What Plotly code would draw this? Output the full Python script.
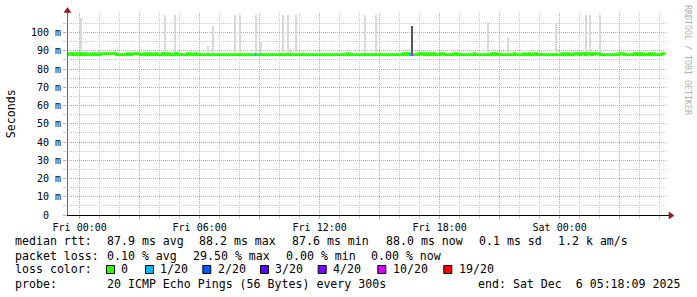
import plotly.graph_objects as go
from datetime import datetime, timedelta

# ---------------- data ----------------
x_start = "2025-12-04 23:22:00"
x_end = "2025-12-06 05:22:00"
y_max = 110.75

median_first = "2025-12-04 23:22"
median_last = "2025-12-06 05:13"
median_base = 87.9
median_high = 88.4
hi_start = ["2025-12-04 23:25", "2025-12-04 23:43", "2025-12-04 23:58", "2025-12-05 00:16",
            "2025-12-05 00:37", "2025-12-05 01:01", "2025-12-05 02:22", "2025-12-05 02:37",
            "2025-12-05 03:13", "2025-12-05 03:25", "2025-12-05 03:46", "2025-12-05 04:07",
            "2025-12-05 04:22", "2025-12-05 04:46", "2025-12-05 05:22", "2025-12-05 05:46",
            "2025-12-05 13:22", "2025-12-05 16:10", "2025-12-05 16:22", "2025-12-05 16:58",
            "2025-12-05 17:22", "2025-12-05 17:40", "2025-12-05 18:01", "2025-12-05 18:43",
            "2025-12-05 19:43", "2025-12-05 20:37", "2025-12-05 20:46", "2025-12-05 21:43",
            "2025-12-05 22:13", "2025-12-05 22:28", "2025-12-05 22:43", "2025-12-06 00:07",
            "2025-12-06 00:22", "2025-12-06 00:43", "2025-12-06 01:04", "2025-12-06 01:22",
            "2025-12-06 01:40", "2025-12-06 02:58", "2025-12-06 03:43", "2025-12-06 03:58",
            "2025-12-06 04:07", "2025-12-06 04:28", "2025-12-06 04:37", "2025-12-06 05:07"]
hi_end = ["2025-12-04 23:37", "2025-12-04 23:52", "2025-12-05 00:07", "2025-12-05 00:22",
          "2025-12-05 00:46", "2025-12-05 01:52", "2025-12-05 02:28", "2025-12-05 03:01",
          "2025-12-05 03:19", "2025-12-05 03:34", "2025-12-05 03:52", "2025-12-05 04:16",
          "2025-12-05 04:31", "2025-12-05 04:55", "2025-12-05 05:31", "2025-12-05 05:52",
          "2025-12-05 13:28", "2025-12-05 16:16", "2025-12-05 16:31", "2025-12-05 17:13",
          "2025-12-05 17:31", "2025-12-05 17:46", "2025-12-05 18:13", "2025-12-05 18:52",
          "2025-12-05 19:46", "2025-12-05 20:43", "2025-12-05 20:52", "2025-12-05 21:46",
          "2025-12-05 22:16", "2025-12-05 22:31", "2025-12-05 22:52", "2025-12-06 00:13",
          "2025-12-06 00:28", "2025-12-06 00:58", "2025-12-06 01:16", "2025-12-06 01:34",
          "2025-12-06 02:01", "2025-12-06 03:13", "2025-12-06 03:52", "2025-12-06 04:04",
          "2025-12-06 04:13", "2025-12-06 04:34", "2025-12-06 04:43", "2025-12-06 05:13"]

loss_times = ["2025-12-05 08:45", "2025-12-05 16:30", "2025-12-05 16:35"]
loss_level = [1, 1, 10]
step_minutes = 5

smoke_times = ["2025-12-05 00:05", "2025-12-05 00:55", "2025-12-05 04:15", "2025-12-05 04:45",
               "2025-12-05 06:25", "2025-12-05 06:40", "2025-12-05 07:45", "2025-12-05 08:00",
               "2025-12-05 08:50", "2025-12-05 09:05", "2025-12-05 10:00", "2025-12-05 10:10",
               "2025-12-05 10:20", "2025-12-05 10:25", "2025-12-05 10:30", "2025-12-05 10:40",
               "2025-12-05 10:50", "2025-12-05 11:10", "2025-12-05 11:20", "2025-12-05 14:15",
               "2025-12-05 14:20", "2025-12-05 14:50", "2025-12-05 15:00", "2025-12-05 15:50",
               "2025-12-05 20:25", "2025-12-05 21:25", "2025-12-05 23:50", "2025-12-06 01:20",
               "2025-12-06 01:30", "2025-12-06 02:00"]
smoke_top = [108.2, 90.5, 109.6, 109.6,
             92.7, 103.7, 109.6, 109.6,
             109.6, 95.0, 89.3, 109.6,
             89.5, 109.6, 91.0, 89.2,
             109.6, 89.3, 89.0, 109.6,
             89.5, 109.6, 89.5, 89.0,
             106.0, 97.0, 105.0, 109.6,
             109.6, 109.6]
dark_times = ["2025-12-05 16:37"]
dark_top = [103.5]

loss_labels = ["0", "1/20", "2/20", "3/20", "4/20", "10/20", "19/20"]
loss_keys = [0, 1, 2, 3, 4, 10, 19]
loss_colors = ["#26ff00", "#00b8ff", "#0059ff", "#5e00ff", "#7e00ff", "#dd00ff", "#ff0000"]

y_tickvals = [0, 10, 20, 30, 40, 50, 60, 70, 80, 90, 100]
y_ticktext = ["0\u00a0\u00a0", "10 m", "20 m", "30 m", "40 m", "50 m", "60 m",
              "70 m", "80 m", "90 m", "100 m"]
y_minorvals = [5, 15, 25, 35, 45, 55, 65, 75, 85, 95, 105]
x_tickvals = ["2025-12-05 00:00", "2025-12-05 03:00", "2025-12-05 06:00", "2025-12-05 09:00",
              "2025-12-05 12:00", "2025-12-05 15:00", "2025-12-05 18:00", "2025-12-05 21:00",
              "2025-12-06 00:00", "2025-12-06 03:00"]
x_ticktext = ["Fri 00:00", "", "Fri 06:00", "", "Fri 12:00", "", "Fri 18:00", "",
              "Sat 00:00", ""]

legend_rows = [
    ["median rtt:", "87.9 ms avg", "88.2 ms max", "87.6 ms min", "88.0 ms now", "0.1 ms sd", "1.2 k am/s"],
    ["packet loss:", "0.10 % avg", "29.50 % max", "0.00 % min", "0.00 % now"],
    ["loss color:"],
    ["probe:", "20 ICMP Echo Pings (56 Bytes) every 300s", "end: Sat Dec  6 05:18:09 2025"],
]

# ---------------- layout geometry (pixels) ----------------
W, H = 697, 297
PL, PR, PT, PB = 67, 667, 13, 215
row_x = [
    [16, 107.3, 200, 292.3, 386.7, 479.3, 558.3],
    [16, 107.3, 193.3, 286.7, 372.3],
    [16],
    [16, 107.3, 478.3],
]
row_y = [241.3, 255.5, 269.4, 283.8]
swatch_x = [106, 145, 202.3, 260, 317.7, 377.3, 443.3]

MONO = "DejaVu Sans Mono"
MAJ = "#e49a9a"
MIN = "#c8c8c8"


def px(x):
    return (x - PL) / (PR - PL)


def py(y):
    return (PB - y) / (PB - PT)


fig = go.Figure()

# smoke
fig.add_trace(go.Bar(x=smoke_times, y=[t - median_base for t in smoke_top], base=median_base,
                     width=6 * 60000, marker_color="#d9d9d9", marker_line_width=0,
                     hoverinfo="skip"))
fig.add_trace(go.Bar(x=dark_times, y=[t - median_base for t in dark_top], base=median_base,
                     width=6 * 60000, marker_color="#555555", marker_line_width=0,
                     hoverinfo="skip"))

# median line
mx = [median_first]
my = [median_base]
for s, e in zip(hi_start, hi_end):
    mx += [s, e]
    my += [median_high, median_base]
mx.append(median_last)
my.append(median_base)
fig.add_trace(go.Scatter(x=mx, y=my, mode="lines", line=dict(color=loss_colors[0], width=2.8, shape="hv"),
                         hoverinfo="skip"))

# loss coloured segments
for t, lv in zip(loss_times, loss_level):
    t0 = datetime.strptime(t, "%Y-%m-%d %H:%M")
    t1 = t0 + timedelta(minutes=step_minutes)
    col = loss_colors[loss_keys.index(lv)]
    fig.add_trace(go.Scatter(x=[t0, t1], y=[median_base, median_base], mode="lines",
                             line=dict(color=col, width=2.8), hoverinfo="skip"))

annotations = []
for items, xs, yy in zip(legend_rows, row_x, row_y):
    for txt, xx in zip(items, xs):
        annotations.append(dict(text=txt, x=px(xx - 0.8), y=py(yy), xref="paper", yref="paper",
                                xanchor="left", yanchor="middle", showarrow=False,
                                borderpad=0, borderwidth=0,
                                font=dict(family=MONO, size=11.6, color="#000")))
shapes = []
for lab, col, sx in zip(loss_labels, loss_colors, swatch_x):
    shapes.append(dict(type="rect", xref="paper", yref="paper",
                       x0=px(sx + 0.5), x1=px(sx + 8.5), y0=py(273.5), y1=py(265.5),
                       fillcolor=col, line=dict(color="#000", width=1)))
    annotations.append(dict(text=lab, x=px(sx + 16 - 0.8), y=py(row_y[2]), xref="paper", yref="paper",
                            xanchor="left", yanchor="middle", showarrow=False,
                            borderpad=0, borderwidth=0,
                            font=dict(family=MONO, size=11.6, color="#000")))

annotations.append(dict(text="Seconds", x=px(10.7), y=py(113.5), xref="paper", yref="paper",
                        textangle=-90, showarrow=False, xanchor="center", yanchor="middle",
                        borderpad=0, borderwidth=0,
                        font=dict(family=MONO, size=11.6, color="#000")))
annotations.append(dict(text="RRDTOOL / TOBI OETIKER", x=px(688), y=py(60), xref="paper", yref="paper",
                        textangle=90, showarrow=False, xanchor="center", yanchor="middle",
                        borderpad=0, borderwidth=0,
                        font=dict(family=MONO, size=8.3, color="#b0b0b0")))

# axis lines and arrows
shapes.append(dict(type="line", xref="paper", yref="paper", x0=px(67.5), x1=px(67.5),
                   y0=py(215), y1=py(12), line=dict(color="#666666", width=1)))
shapes.append(dict(type="line", xref="paper", yref="paper", x0=px(67), x1=px(670),
                   y0=py(215.5), y1=py(215.5), line=dict(color="#000000", width=1)))
ARROW = "#8b1a1a"
shapes.append(dict(type="path", xref="paper", yref="paper",
                   path="M {} {} L {} {} L {} {} Z".format(px(67.5), py(7.5), px(64), py(12.5), px(71), py(12.5)),
                   fillcolor=ARROW, line=dict(color=ARROW, width=0.5)))
shapes.append(dict(type="path", xref="paper", yref="paper",
                   path="M {} {} L {} {} L {} {} Z".format(px(674), py(215.5), px(669), py(212), px(669), py(219)),
                   fillcolor=ARROW, line=dict(color=ARROW, width=0.5)))

fig.update_layout(
    width=W, height=H, autosize=False,
    margin=dict(l=PL, r=W - PR, t=PT, b=H - PB, pad=0),
    paper_bgcolor="white", plot_bgcolor="white",
    showlegend=False, barmode="overlay", bargap=0,
    annotations=annotations, shapes=shapes,
)
fig.update_xaxes(
    type="date", range=[x_start, x_end], showline=False, zeroline=False,
    tickmode="array", tickvals=x_tickvals, ticktext=x_ticktext,
    showgrid=True, gridcolor=MAJ, griddash="1px,1px", gridwidth=1,
    ticks="outside", ticklen=3, tickcolor=MAJ, tickwidth=1,
    tickfont=dict(family=MONO, size=10, color="#000"),
    minor=dict(tickmode="linear", tick0="2025-12-05 00:00", dtick=3600000,
               showgrid=True, gridcolor=MIN, griddash="1px,1px", gridwidth=1,
               ticks="outside", ticklen=3, tickcolor=MIN),
)
fig.update_yaxes(
    range=[0, y_max], showline=False, zeroline=False,
    tickmode="array", tickvals=y_tickvals, ticktext=y_ticktext,
    showgrid=True, gridcolor=MAJ, griddash="1px,1px", gridwidth=1,
    ticks="outside", ticklen=3, tickcolor=MAJ, tickwidth=1,
    tickfont=dict(family=MONO, size=10, color="#000"),
    minor=dict(tickmode="array", tickvals=y_minorvals,
               showgrid=True, gridcolor=MIN, griddash="1px,1px", gridwidth=1,
               ticks="outside", ticklen=3, tickcolor=MIN),
)

fig.write_html("out.html")
